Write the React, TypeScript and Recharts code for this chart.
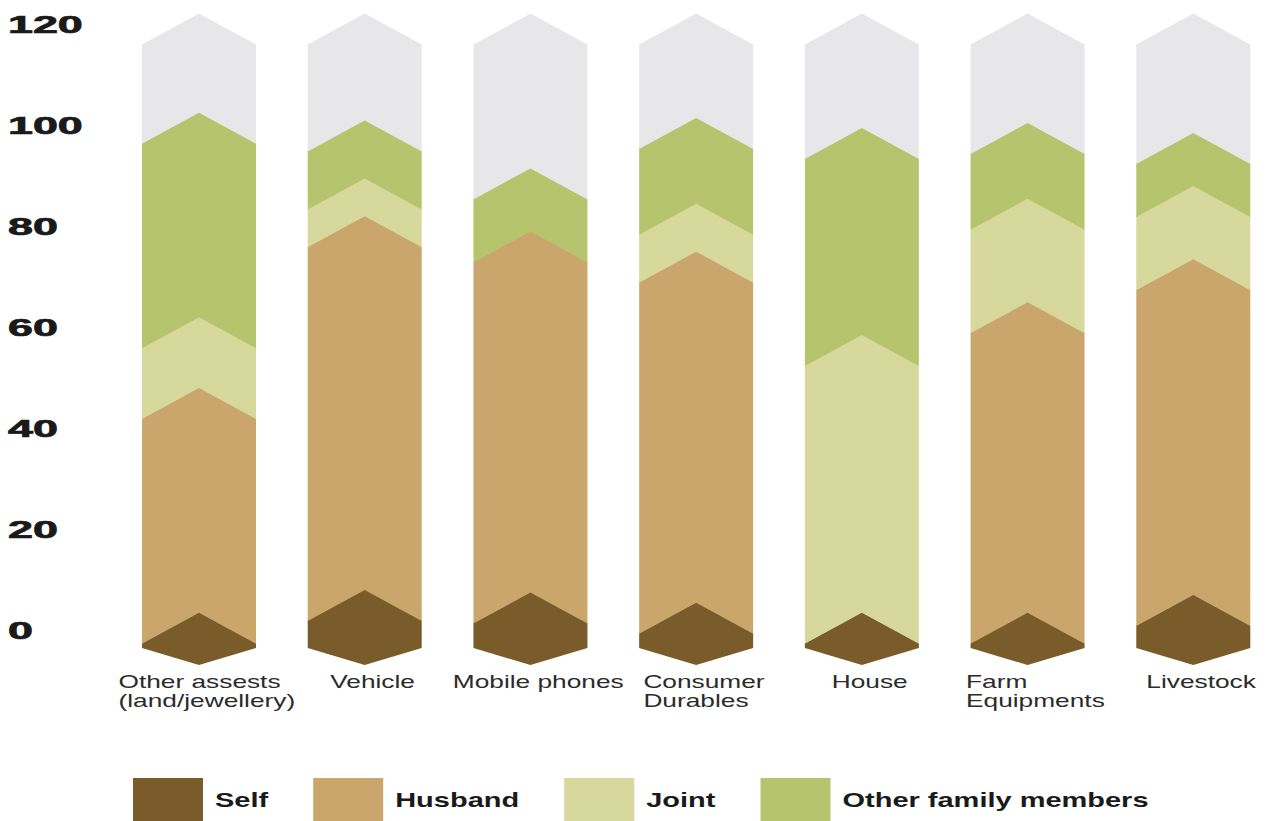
import React from "react";
import { BarChart, Bar, XAxis, YAxis } from "recharts";

// asset categories (line breaks are drawn as separate lines)
const categories = [
  "Other assests\n(land/jewellery)",
  "Vehicle",
  "Mobile phones",
  "Consumer\nDurables",
  "House",
  "Farm\nEquipments",
  "Livestock",
];

// share of ownership per asset, stacked bottom to top
const self = [0.5, 5, 4.5, 2.5, 0.5, 0.5, 4];
const husband = [44.5, 74, 71.5, 69.5, 0, 61.5, 66.5];
const joint = [14, 7.5, 0, 9.5, 55, 20.5, 14.5];
const otherFamily = [40.5, 11.5, 12.5, 17, 41, 15, 10.5];
const remainder = [19.5, 21, 30.5, 20.5, 22.5, 21.5, 23.5];

const yTicks = [0, 20, 40, 60, 80, 100, 120];

const series = [
  { key: "self", name: "Self", color: "#7a5b2a", values: self },
  { key: "husband", name: "Husband", color: "#cba66c", values: husband },
  { key: "joint", name: "Joint", color: "#d7d89b", values: joint },
  { key: "other", name: "Other family members", color: "#b5c46d", values: otherFamily },
];

const data = categories.map((category, i) => ({
  category,
  self: self[i],
  husband: husband[i],
  joint: joint[i],
  other: otherFamily[i],
  rest: remainder[i],
}));

const CHEVRON = 31; // peak-to-corner drop of each segment edge
const BASE_SIDE = 18; // base V: corners below the zero line
const BASE_TIP = 35; // base V: tip below the zero line

// label text in the source is wide, so glyphs get stretched horizontally
const X_STRETCH = 1.46;
const Y_STRETCH = 1.95;
const LEGEND_STRETCH = 1.45;

const canvas = typeof document !== "undefined" ? document.createElement("canvas") : null;
const ctx = canvas ? canvas.getContext("2d") : null;
function textWidth(s: string, font: string) {
  if (!ctx) return s.length * 10;
  ctx.font = font;
  return ctx.measureText(s).width;
}

function chevron(isBase: boolean) {
  return (props: any) => {
    const { x, y, width, height, fill } = props;
    if (!width || !height || height <= 0) return <g />;
    const h = CHEVRON / 2;
    const cx = x + width / 2;
    const bot = y + height;
    const pts = [
      [x, y + h],
      [cx, y - h],
      [x + width, y + h],
      ...(isBase
        ? [
            [x + width, bot + BASE_SIDE],
            [cx, bot + BASE_TIP],
            [x, bot + BASE_SIDE],
          ]
        : [
            [x + width, bot + h + 0.8],
            [cx, bot - h + 0.8],
            [x, bot + h + 0.8],
          ]),
    ];
    return <polygon points={pts.map((p) => p.join(",")).join(" ")} fill={fill} />;
  };
}

const X_FONT = '18px "Liberation Sans"';

function XTick(props: any) {
  const { x, y, payload } = props;
  const lines = String(payload.value).split("\n");
  const block = Math.max(...lines.map((l) => textWidth(l, X_FONT))) * X_STRETCH;
  const left = x - block / 2 + 8;
  return (
    <g transform={`translate(${left}, ${y}) scale(${X_STRETCH}, 1)`}>
      <text fontFamily="Liberation Sans" fontSize={18} fill="#2b2b2b">
        {lines.map((l, i) => (
          <tspan key={i} x={0} y={58 + i * 19}>
            {l}
          </tspan>
        ))}
      </text>
    </g>
  );
}

function YTick(props: any) {
  const { y, payload } = props;
  return (
    <g transform={`translate(8, ${y}) scale(${Y_STRETCH}, 1)`}>
      <text
        x={0}
        y={0}
        dy="0.38em"
        textAnchor="start"
        fontFamily="Liberation Sans"
        fontWeight="bold"
        fontSize={23}
        fill="#1a1a1a"
        stroke="#1a1a1a"
        strokeWidth={0.7}
      >
        {payload.value}
      </text>
    </g>
  );
}

const LEGEND_FONT = 'bold 20px "Liberation Sans"';

function Legend() {
  let cursor = 133;
  const items = series.map((s) => {
    const sx = cursor;
    const tx = sx + 70 + 12;
    const w = textWidth(s.name, LEGEND_FONT) * LEGEND_STRETCH;
    cursor = tx + w + 45;
    return (
      <g key={s.key}>
        <rect x={sx} y={18} width={70} height={50} fill={s.color} />
        <g transform={`translate(${tx}, 40) scale(${LEGEND_STRETCH}, 1)`}>
          <text
            x={0}
            y={0}
            dy="0.36em"
            fontFamily="Liberation Sans"
            fontWeight="bold"
            fontSize={20}
            fill="#1a1a1a"
          >
            {s.name}
          </text>
        </g>
      </g>
    );
  });
  return (
    <svg width={1284} height={61} style={{ position: "absolute", left: 0, top: 760 }}>
      {items}
    </svg>
  );
}

export default function App() {
  return (
    <div
      style={{
        position: "absolute",
        left: 0,
        top: 0,
        width: 1284,
        height: 821,
        background: "#fff",
        overflow: "hidden",
      }}
    >
      <BarChart
        width={1284}
        height={740}
        data={data}
        barSize={114}
        margin={{ top: 24, right: 8, left: 0, bottom: 20 }}
      >
        <XAxis
          dataKey="category"
          axisLine={false}
          tickLine={false}
          tickSize={0}
          tickMargin={0}
          interval={0}
          height={90}
          tick={<XTick />}
        />
        <YAxis
          width={116}
          domain={[0, 120]}
          ticks={yTicks}
          interval={0}
          axisLine={false}
          tickLine={false}
          tick={<YTick />}
        />
        <Bar dataKey="self" stackId="a" fill="#7a5b2a" shape={chevron(true)} isAnimationActive={false} />
        <Bar dataKey="husband" stackId="a" fill="#cba66c" shape={chevron(false)} isAnimationActive={false} />
        <Bar dataKey="joint" stackId="a" fill="#d7d89b" shape={chevron(false)} isAnimationActive={false} />
        <Bar dataKey="other" stackId="a" fill="#b5c46d" shape={chevron(false)} isAnimationActive={false} />
        <Bar dataKey="rest" stackId="a" fill="#e7e7e9" shape={chevron(false)} isAnimationActive={false} />
      </BarChart>
      <Legend />
    </div>
  );
}
